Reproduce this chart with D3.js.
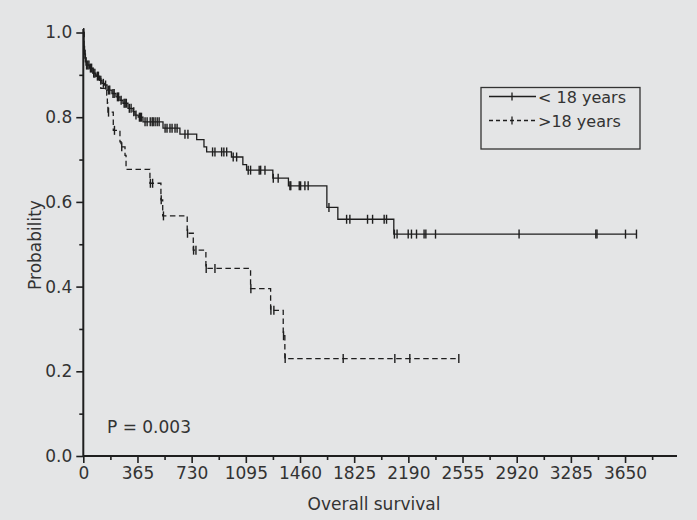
<!DOCTYPE html>
<html>
<head>
<meta charset="utf-8">
<script src="https://cdn.jsdelivr.net/npm/d3@7"></script>
<style>
  html, body { margin: 0; padding: 0; background: #e4e5e6; }
  svg { display: block; }
  text { font-family: "DejaVu Sans", sans-serif; fill: #333; }
</style>
</head>
<body>
<svg id="chart" width="697" height="520"></svg>
<script>
// ---- data ----
const xTicks = [0, 365, 730, 1095, 1460, 1825, 2190, 2555, 2920, 3285, 3650];
const xMinorTicks = [182.5, 547.5, 912.5, 1277.5, 1642.5, 2007.5, 2372.5, 2737.5, 3102.5, 3467.5, 3832.5];
const yTicks = [0, 0.2, 0.4, 0.6, 0.8, 1.0];
const yMinorTicks = [0.1, 0.3, 0.5, 0.7, 0.9];

const seriesNames = ["< 18 years", ">18 years"];

const under18Times = [0, 5, 11, 18, 43, 65, 85, 110, 126, 144, 160, 193, 220, 247, 267, 301, 335, 348, 370, 402, 537, 651, 764, 813, 831, 998, 1075, 1100, 1277, 1382, 1641, 1715, 2092];
const under18Surv  = [1.0, 0.958, 0.94, 0.923, 0.916, 0.904, 0.897, 0.887, 0.88, 0.876, 0.864, 0.856, 0.848, 0.84, 0.833, 0.821, 0.813, 0.805, 0.80, 0.789, 0.774, 0.76, 0.747, 0.73, 0.718, 0.706, 0.688, 0.675, 0.656, 0.638, 0.587, 0.559, 0.524];
const under18End = 3727;
const under18Censor = [3, 8, 14, 22, 30, 38, 48, 56, 70, 78, 95, 102, 118, 135, 150, 170, 178, 200, 208, 230, 238, 255, 275, 282, 290, 310, 322, 340, 355, 378, 385, 392, 416, 430, 451, 464, 471, 484, 498, 511, 551, 564, 584, 598, 618, 632, 685, 705, 871, 887, 932, 947, 966, 1010, 1033, 1111, 1127, 1185, 1195, 1224, 1280, 1313, 1392, 1398, 1455, 1464, 1493, 1515, 1655, 1774, 1796, 1915, 1949, 2027, 2043, 2096, 2114, 2189, 2211, 2245, 2296, 2308, 2373, 2936, 3453, 3461, 3653, 3727];

const over18Times = [0, 5, 11, 18, 43, 65, 85, 118, 158, 162, 166, 202, 247, 254, 281, 288, 449, 523, 535, 700, 741, 826, 1127, 1262, 1347, 1358];
const over18Surv  = [1.0, 0.958, 0.94, 0.923, 0.916, 0.904, 0.897, 0.868, 0.852, 0.833, 0.812, 0.769, 0.742, 0.73, 0.71, 0.677, 0.644, 0.605, 0.567, 0.526, 0.486, 0.443, 0.395, 0.344, 0.284, 0.230];
const over18End = 2530;
const over18Censor = [170, 210, 259, 452, 467, 525, 540, 702, 743, 759, 828, 887, 1129, 1264, 1284, 1349, 1360, 1751, 2099, 2200, 2530];

const pText = "P = 0.003";
const xLabel = "Overall survival";
const yLabel = "Probability";

// ---- drawing ----
const svg = d3.select("#chart");
const x = d3.scaleLinear().domain([0, 4000]).range([83.3, 677]);
const y = d3.scaleLinear().domain([0, 1]).range([456, 32.5]);
const ink = "#1e1e1e";

// axes
const gx = svg.append("g").attr("transform", `translate(0,${y(0)})`)
  .call(d3.axisBottom(x).tickValues(xTicks).tickSize(7).tickSizeOuter(0).tickPadding(4).tickFormat(d3.format("d")));
const gxm = svg.append("g").attr("transform", `translate(0,${y(0)})`)
  .call(d3.axisBottom(x).tickValues(xMinorTicks).tickSize(4).tickSizeOuter(0).tickFormat(() => ""));
const gy = svg.append("g").attr("transform", `translate(${x(0)},0)`)
  .call(d3.axisLeft(y).tickValues(yTicks).tickSize(7).tickSizeOuter(0).tickPadding(4).tickFormat(d3.format(".1f")));
const gym = svg.append("g").attr("transform", `translate(${x(0)},0)`)
  .call(d3.axisLeft(y).tickValues(yMinorTicks).tickSize(4).tickSizeOuter(0).tickFormat(() => ""));

[gx, gxm, gy, gym].forEach(g => {
  g.select(".domain").remove();
  g.selectAll(".tick line").attr("stroke", ink).attr("stroke-width", 1.6);
  g.selectAll(".tick text").attr("font-size", 17).attr("fill", "#333")
    .attr("font-family", "DejaVu Sans, sans-serif");
});

// axis lines
svg.append("line").attr("x1", x(0)).attr("x2", x(4000)).attr("y1", y(0)).attr("y2", y(0))
  .attr("stroke", ink).attr("stroke-width", 2);
svg.append("line").attr("x1", x(0)).attr("x2", x(0)).attr("y1", y(0)).attr("y2", y(1.008))
  .attr("stroke", ink).attr("stroke-width", 2);

// axis titles
svg.append("text").attr("x", 374).attr("y", 510).attr("text-anchor", "middle")
  .attr("font-size", 17).text(xLabel);
svg.append("text").attr("transform", `translate(41,245) rotate(-90)`).attr("text-anchor", "middle")
  .attr("font-size", 17).text(yLabel);

// P value
svg.append("text").attr("x", 107).attr("y", 433).attr("font-size", 17).text(pText);

// survival step helper
function survAt(times, surv, t) {
  let s = surv[0];
  for (let i = 0; i < times.length; i++) { if (times[i] <= t) s = surv[i]; }
  return s;
}
const line = d3.line().x(d => x(d[0])).y(d => y(d[1])).curve(d3.curveStepAfter);

function drawSeries(times, surv, endT, censor, dash) {
  const pts = times.map((t, i) => [t, surv[i]]);
  pts.push([endT, surv[surv.length - 1]]);
  svg.append("path").datum(pts).attr("d", line)
    .attr("fill", "none").attr("stroke", ink).attr("stroke-width", 1.3)
    .attr("stroke-dasharray", dash || null);
  svg.append("g").selectAll("line").data(censor).join("line")
    .attr("x1", d => x(d)).attr("x2", d => x(d))
    .attr("y1", d => y(survAt(times, surv, d)) - 4.5)
    .attr("y2", d => y(survAt(times, surv, d)) + 4.5)
    .attr("stroke", ink).attr("stroke-width", 1.4);
}
drawSeries(over18Times, over18Surv, over18End, over18Censor, "5.5,3.5");
drawSeries(under18Times, under18Surv, under18End, under18Censor, null);

// legend
const lg = svg.append("g");
lg.append("rect").attr("x", 481).attr("y", 87.5).attr("width", 159).attr("height", 61.5)
  .attr("fill", "none").attr("stroke", "#333").attr("stroke-width", 1.3);
const legendRows = [{ name: seriesNames[0], dash: null, yy: 96.5 }, { name: seriesNames[1], dash: "4,3", yy: 120.5 }];
legendRows.forEach(r => {
  lg.append("line").attr("x1", 489).attr("x2", 536).attr("y1", r.yy).attr("y2", r.yy)
    .attr("stroke", ink).attr("stroke-width", 1.3).attr("stroke-dasharray", r.dash);
  lg.append("line").attr("x1", 512).attr("x2", 512).attr("y1", r.yy - 4).attr("y2", r.yy + 4)
    .attr("stroke", ink).attr("stroke-width", 1.3);
  lg.append("text").attr("x", 538).attr("y", r.yy + 6).attr("font-size", 16).text(r.name);
});
</script>
</body>
</html>
